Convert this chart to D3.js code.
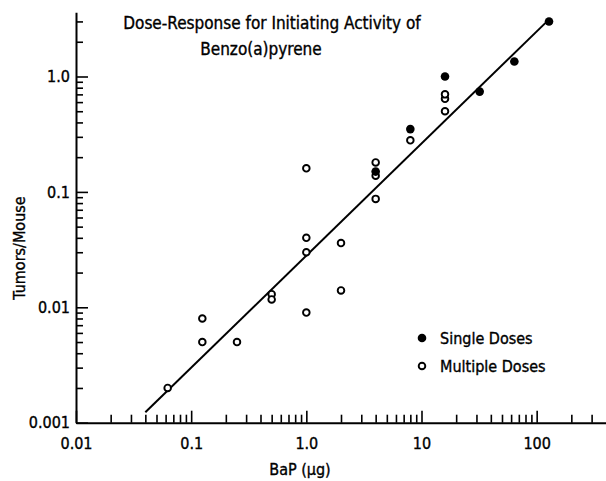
<!DOCTYPE html>
<html>
<head>
<meta charset="utf-8">
<script src="https://cdn.jsdelivr.net/npm/d3@7"></script>
<style>
  body { margin: 0; background: #fff; }
  svg { display: block; }
  text { font-family: "Liberation Sans Narrow", "DejaVu Sans Condensed", sans-serif; fill: #000; stroke: #000; stroke-width: 0.35px; }
</style>
</head>
<body>
<svg id="chart" width="606" height="481"></svg>
<script>
// single doses (filled)
var singleDose = [4, 8, 16, 32, 64, 128];
var singleTumors = [0.15, 0.35, 1.0, 0.74, 1.35, 3.0];

// multiple doses (open)
var multiDose = [0.0625, 0.125, 0.125, 0.25, 0.5, 0.5, 1, 1, 1, 1, 2, 2, 4, 4, 4, 8, 16, 16, 16];
var multiTumors = [0.002, 0.008, 0.005, 0.005, 0.013, 0.0117, 0.16, 0.04, 0.03, 0.009, 0.036, 0.014, 0.18, 0.138, 0.087, 0.28, 0.5, 0.64, 0.7];

// fitted line end points
var fitDose = [0.04, 125];
var fitTumors = [0.00123, 3.05];

var xMajor = [0.01, 0.1, 1, 10, 100];
var xLabels = ["0.01", "0.1", "1.0", "10", "100"];
var yMajor = [0.001, 0.01, 0.1, 1];
var yLabels = ["0.001", "0.01", "0.1", "1.0"];

var titleLines = ["Dose-Response for Initiating Activity of", "Benzo(a)pyrene"];

var svg = d3.select("#chart");

var x = d3.scaleLog().domain([0.01, 400]).range([76, 606]);
var y = d3.scaleLog().domain([0.001, 3.6]).range([422.7, 12.3]);

// minor ticks (2..9 of each decade)
var xMinor = x.ticks().filter(function(d) { return xMajor.indexOf(d) < 0 && d < 400; });
var yMinor = y.ticks().filter(function(d) { return yMajor.indexOf(d) < 0 && d < 3.6; });

// x axis
var xAxisMinor = svg.append("g")
  .attr("transform", "translate(0," + y.range()[0] + ")")
  .call(d3.axisBottom(x).tickValues(xMinor).tickSize(-8).tickSizeOuter(0).tickFormat(""));
xAxisMinor.select(".domain").remove();

var xAxis = svg.append("g")
  .attr("class", "x-axis")
  .attr("transform", "translate(0," + y.range()[0] + ")")
  .call(d3.axisBottom(x).tickValues(xMajor).tickSize(-12).tickSizeOuter(0).tickPadding(15)
    .tickFormat(function(d, i) { return xLabels[i]; }));

// y axis
var yAxisMinor = svg.append("g")
  .attr("transform", "translate(" + x.range()[0] + ",0)")
  .call(d3.axisLeft(y).tickValues(yMinor).tickSize(-7).tickSizeOuter(0).tickFormat(""));
yAxisMinor.select(".domain").remove();

var yAxis = svg.append("g")
  .attr("class", "y-axis")
  .attr("transform", "translate(" + x.range()[0] + ",0)")
  .call(d3.axisLeft(y).tickValues(yMajor).tickSize(-12).tickSizeOuter(0).tickPadding(6)
    .tickFormat(function(d, i) { return yLabels[i]; }));

svg.selectAll(".domain").attr("stroke", "#000").attr("stroke-width", 2);
svg.selectAll(".tick line").attr("stroke", "#000").attr("stroke-width", 1.6);
svg.selectAll(".tick text")
  .attr("font-family", null)
  .style("font-size", "16px");
xAxis.attr("font-family", null).attr("font-size", null);
yAxis.attr("font-family", null).attr("font-size", null);

// fitted line
var line = d3.line()
  .x(function(d) { return x(d[0]); })
  .y(function(d) { return y(d[1]); });
svg.append("path")
  .datum(d3.zip(fitDose, fitTumors))
  .attr("d", line)
  .attr("fill", "none")
  .attr("stroke", "#000")
  .attr("stroke-width", 2);

// open points
svg.append("g").selectAll("circle")
  .data(d3.zip(multiDose, multiTumors))
  .enter().append("circle")
  .attr("cx", function(d) { return x(d[0]); })
  .attr("cy", function(d) { return y(d[1]); })
  .attr("r", 3.3)
  .attr("fill", "#fff")
  .attr("stroke", "#000")
  .attr("stroke-width", 1.9);

// filled points
svg.append("g").selectAll("circle")
  .data(d3.zip(singleDose, singleTumors))
  .enter().append("circle")
  .attr("cx", function(d) { return x(d[0]); })
  .attr("cy", function(d) { return y(d[1]); })
  .attr("r", 4.3)
  .attr("fill", "#000");

// title
svg.append("text").attr("x", 272).attr("y", 29).attr("text-anchor", "middle")
  .style("font-size", "17px").text(titleLines[0]);
svg.append("text").attr("x", 261).attr("y", 55).attr("text-anchor", "middle")
  .style("font-size", "17px").text(titleLines[1]);

// axis titles
svg.append("text").attr("x", 300).attr("y", 475).attr("text-anchor", "middle")
  .style("font-size", "16px").text("BaP (\u03bcg)");
svg.append("text")
  .attr("transform", "translate(25,248) rotate(-90)")
  .attr("text-anchor", "middle")
  .style("font-size", "16px").text("Tumors/Mouse");

// legend
var legend = svg.append("g");
legend.append("circle").attr("cx", 422).attr("cy", 338).attr("r", 4.3).attr("fill", "#000");
legend.append("circle").attr("cx", 422).attr("cy", 366).attr("r", 3.3)
  .attr("fill", "#fff").attr("stroke", "#000").attr("stroke-width", 1.9);
legend.append("text").attr("x", 440).attr("y", 344).style("font-size", "16px").text("Single Doses");
legend.append("text").attr("x", 440).attr("y", 372).style("font-size", "16px").text("Multiple Doses");
</script>
</body>
</html>
